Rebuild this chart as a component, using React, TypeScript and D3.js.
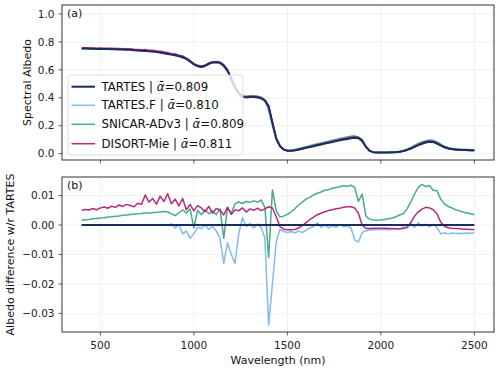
import React from 'react';
import * as d3 from 'd3';

// wavelength grid (nm), 20 nm step
const wavelengths = d3.range(400, 2501, 20);

// TARTES spectral albedo
const albedoTartes = [
  0.752, 0.752, 0.751, 0.751, 0.750, 0.750, 0.749, 0.749, 0.748, 0.747,
  0.746, 0.745, 0.744, 0.743, 0.741, 0.739, 0.737, 0.735, 0.733, 0.731,
  0.728, 0.724, 0.719, 0.714, 0.709, 0.704, 0.698, 0.690, 0.678, 0.660,
  0.640, 0.626, 0.621, 0.628, 0.643, 0.653, 0.655, 0.650, 0.632, 0.595,
  0.535, 0.475, 0.430, 0.408, 0.403, 0.405, 0.406, 0.403, 0.396, 0.380,
  0.340, 0.220, 0.110, 0.055, 0.030, 0.022, 0.022, 0.025, 0.030, 0.036,
  0.042, 0.048, 0.054, 0.060, 0.066, 0.072, 0.078, 0.084, 0.090, 0.096,
  0.101, 0.106, 0.111, 0.115, 0.112, 0.092, 0.050, 0.020, 0.011, 0.009,
  0.009, 0.009, 0.009, 0.010, 0.011, 0.014, 0.019, 0.027, 0.037, 0.049,
  0.061, 0.071, 0.080, 0.085, 0.083, 0.073, 0.059, 0.046, 0.038, 0.033,
  0.030, 0.028, 0.027, 0.026, 0.025, 0.024, 0.023,
];

// differences with respect to TARTES
const diffTartesF = [
  0.0000, -0.0001, 0.0000, -0.0001, 0.0000, -0.0001, 0.0000, -0.0001, 0.0000, -0.0001,
  0.0000, -0.0001, 0.0000, -0.0001, 0.0000, -0.0001, 0.0000, -0.0001, 0.0000, -0.0001,
  0.0000, -0.0001, 0.0000, -0.0002, 0.0004, -0.0010, 0.0002, -0.0030, -0.0020, -0.0045,
  -0.0030, -0.0008, -0.0012, 0.0000, -0.0015, -0.0005, -0.0020, -0.0045, -0.0130, -0.0060,
  -0.0100, -0.0130, -0.0030, 0.0025, -0.0005, 0.0005, -0.0010, 0.0003, -0.0008, -0.0045,
  -0.0340, -0.0200, -0.0060, -0.0015, -0.0022, -0.0025, -0.0022, -0.0027, -0.0020, -0.0026,
  -0.0018, -0.0010, -0.0005, 0.0008, -0.0008, 0.0000, -0.0010, -0.0002, -0.0008, 0.0002,
  -0.0005, -0.0003, -0.0010, -0.0050, -0.0058, -0.0025, -0.0020, -0.0016, -0.0015, -0.0016,
  -0.0015, -0.0015, -0.0016, -0.0014, -0.0012, -0.0014, -0.0006, -0.0010, 0.0005, -0.0008,
  0.0008, -0.0004, 0.0003, -0.0006, 0.0002, -0.0008, -0.0030, -0.0026, -0.0030, -0.0027,
  -0.0029, -0.0028, -0.0029, -0.0027, -0.0028, -0.0027,
];

const diffSnicar = [
  0.0016, 0.0018, 0.0019, 0.0021, 0.0022, 0.0024, 0.0025, 0.0027, 0.0028, 0.0030,
  0.0031, 0.0033, 0.0034, 0.0036, 0.0037, 0.0038, 0.0039, 0.0041, 0.0041, 0.0042,
  0.0043, 0.0044, 0.0046, 0.0045, 0.0038, 0.0032, 0.0041, 0.0052, 0.0040, 0.0055,
  -0.0010, 0.0050, 0.0035, 0.0052, 0.0038, 0.0048, 0.0035, 0.0055, -0.0045, 0.0060,
  0.0040, 0.0072, 0.0078, 0.0073, 0.0080, 0.0077, 0.0082, 0.0078, 0.0085, 0.0060,
  -0.0110, 0.0120, 0.0050, 0.0028, 0.0030, 0.0036, 0.0045, 0.0055, 0.0068, 0.0078,
  0.0088, 0.0094, 0.0102, 0.0108, 0.0112, 0.0118, 0.0120, 0.0125, 0.0127, 0.0130,
  0.0133, 0.0131, 0.0135, 0.0128, 0.0080, 0.0105, 0.0030, 0.0020, 0.0017, 0.0016,
  0.0017, 0.0019, 0.0021, 0.0024, 0.0028, 0.0034, 0.0038, 0.0055, 0.0078, 0.0105,
  0.0128, 0.0138, 0.0130, 0.0134, 0.0118, 0.0116, 0.0088, 0.0072, 0.0063, 0.0058,
  0.0052, 0.0048, 0.0044, 0.0041, 0.0038, 0.0035,
];

const diffDisort = [
  0.0050, 0.0053, 0.0051, 0.0056, 0.0052, 0.0058, 0.0061, 0.0057, 0.0064, 0.0060,
  0.0068, 0.0063, 0.0070, 0.0066, 0.0062, 0.0074, 0.0070, 0.0102, 0.0078, 0.0090,
  0.0071, 0.0098, 0.0080, 0.0106, 0.0072, 0.0088, 0.0065, 0.0090, 0.0052, 0.0070,
  0.0048, 0.0066, 0.0058, 0.0045, 0.0063, 0.0040, 0.0056, 0.0050, 0.0034, 0.0060,
  0.0036, 0.0052, 0.0048, 0.0058, 0.0044, 0.0055, 0.0050, 0.0057, 0.0049, 0.0055,
  0.0062, 0.0058, 0.0030, -0.0005, -0.0014, -0.0016, -0.0016, -0.0015, -0.0010, -0.0002,
  0.0008, 0.0018, 0.0027, 0.0035, 0.0040, 0.0045, 0.0049, 0.0052, 0.0055, 0.0057,
  0.0060, 0.0062, 0.0062, 0.0058, 0.0040, 0.0000, -0.0012, -0.0012, -0.0011, -0.0011,
  -0.0011, -0.0011, -0.0012, -0.0012, -0.0013, -0.0013, -0.0012, -0.0008, 0.0008, 0.0030,
  0.0045, 0.0054, 0.0060, 0.0058, 0.0052, 0.0038, 0.0010, -0.0004, -0.0009, -0.0011,
  -0.0012, -0.0013, -0.0014, -0.0014, -0.0015, -0.0015,
];

const diffTartes = wavelengths.map(() => 0);

const seriesNames = ['TARTES', 'TARTES.F', 'SNICAR-ADv3', 'DISORT-Mie'];
const meanAlbedo = ['0.809', '0.810', '0.809', '0.811'];
const colors = ['#1c2b5e', '#7fbcf4', '#4aab86', '#b52a80'];
const diffs = [diffTartes, diffTartesF, diffSnicar, diffDisort];

const xTicks = [500, 1000, 1500, 2000, 2500];
const yTicksTop = [0.0, 0.2, 0.4, 0.6, 0.8, 1.0];
const yTicksBottom = [-0.03, -0.02, -0.01, 0.0, 0.01];

const W = 500;
const H = 371;
const left = 62;
const right = 494;
const top1 = 5;
const bot1 = 160;
const top2 = 177;
const bot2 = 332;
const font = "'DejaVu Sans', sans-serif";
const fs = 10.5;
const labelFs = 11;
const legendFs = 11.8;
const gridColor = '#ececec';
const spineColor = '#333';

const x = d3.scaleLinear().domain([295, 2605]).range([left, right]);
const yTop = d3.scaleLinear().domain([-0.045, 1.064]).range([bot1, top1]);
const yBot = d3.scaleLinear().domain([-0.0363, 0.0163]).range([bot2, top2]);

const fmtMinus = (s: string) => s.replace('-', '\u2212');

function Panel({ y, yTicks, fmt, top, bot }: any) {
  return (
    <g>
      {xTicks.map((t) => (
        <line key={'gx' + t} x1={x(t)} x2={x(t)} y1={top} y2={bot} stroke={gridColor} strokeWidth={0.8} />
      ))}
      {yTicks.map((t: number) => (
        <line key={'gy' + t} x1={left} x2={right} y1={y(t)} y2={y(t)} stroke={gridColor} strokeWidth={0.8} />
      ))}
      {yTicks.map((t: number) => (
        <g key={'ty' + t}>
          <line x1={left - 3.5} x2={left} y1={y(t)} y2={y(t)} stroke={spineColor} strokeWidth={0.8} />
          <text x={left - 7.5} y={y(t)} dy="0.35em" textAnchor="end" fontSize={fs} fill="#222">
            {fmtMinus(fmt(t))}
          </text>
        </g>
      ))}
      {xTicks.map((t) => (
        <line key={'tx' + t} x1={x(t)} x2={x(t)} y1={bot} y2={bot + 3.5} stroke={spineColor} strokeWidth={0.8} />
      ))}
    </g>
  );
}

export default function App() {
  const lineTop = (vals: number[]) =>
    d3.line<number>().x((_, i) => x(wavelengths[i])).y((d) => yTop(d))(vals) || '';
  const lineBot = (vals: number[]) =>
    d3.line<number>().x((_, i) => x(wavelengths[i])).y((d) => yBot(d))(vals) || '';

  const albedos = diffs.map((dv) => albedoTartes.map((a, i) => a + dv[i]));
  const drawOrder = [1, 2, 3, 0];
  const widths = [2, 1.5, 1.5, 1.5];

  const legendX = 68;
  const legendY = 75;
  const rowY = [86.7, 105.3, 124.3, 143.7];

  return (
    <svg width={W} height={H} style={{ position: 'absolute', left: 0, top: 0, background: '#fff', fontFamily: font }}>
      <defs>
        <clipPath id="c1"><rect x={left} y={top1} width={right - left} height={bot1 - top1} /></clipPath>
        <clipPath id="c2"><rect x={left} y={top2} width={right - left} height={bot2 - top2} /></clipPath>
      </defs>

      {/* top panel */}
      <Panel y={yTop} yTicks={yTicksTop} fmt={d3.format('.1f')} top={top1} bot={bot1} />
      <g clipPath="url(#c1)">
        {drawOrder.map((k) => (
          <path key={'a' + k} d={lineTop(albedos[k])} fill="none" stroke={colors[k]} strokeWidth={widths[k]} strokeLinejoin="round" />
        ))}
      </g>
      <rect x={left} y={top1} width={right - left} height={bot1 - top1} fill="none" stroke={spineColor} strokeWidth={1} />
      <text x={left + 5} y={top1 + 12} fontSize={labelFs} fill="#111">(a)</text>
      <text transform={`translate(31,${(top1 + bot1) / 2}) rotate(-90)`} textAnchor="middle" fontSize={labelFs} fill="#111">
        Spectral Albedo
      </text>

      {/* legend */}
      <rect x={legendX} y={legendY} width={175} height={80} rx={3} fill="#fff" fillOpacity={0.8} stroke="#d6d6d6" strokeWidth={0.8} />
      {seriesNames.map((name, i) => (
        <g key={'lg' + i}>
          <line x1={71.5} x2={95} y1={rowY[i]} y2={rowY[i]} stroke={colors[i]} strokeWidth={i === 0 ? 2 : 1.5} />
          <text x={101.5} y={rowY[i]} dy="0.35em" fontSize={legendFs} fill="#111">
            {name} | <tspan fontStyle="italic">{'\u1FB1'}</tspan>={meanAlbedo[i]}
          </text>
        </g>
      ))}

      {/* bottom panel */}
      <Panel y={yBot} yTicks={yTicksBottom} fmt={d3.format('.2f')} top={top2} bot={bot2} />
      <g clipPath="url(#c2)">
        {drawOrder.map((k) => (
          <path key={'d' + k} d={lineBot(diffs[k])} fill="none" stroke={colors[k]} strokeWidth={widths[k]} strokeLinejoin="round" />
        ))}
      </g>
      <rect x={left} y={top2} width={right - left} height={bot2 - top2} fill="none" stroke={spineColor} strokeWidth={1} />
      <text x={left + 5} y={top2 + 12} fontSize={labelFs} fill="#111">(b)</text>
      <text transform={`translate(14,${(top2 + bot2) / 2}) rotate(-90)`} textAnchor="middle" fontSize={labelFs} fill="#111">
        Albedo difference w/r TARTES
      </text>

      {xTicks.map((t) => (
        <text key={'xl' + t} x={x(t)} y={bot2 + 17} textAnchor="middle" fontSize={fs} fill="#222">
          {t}
        </text>
      ))}
      <text x={(left + right) / 2} y={364} textAnchor="middle" fontSize={labelFs} fill="#111">
        Wavelength (nm)
      </text>
    </svg>
  );
}
